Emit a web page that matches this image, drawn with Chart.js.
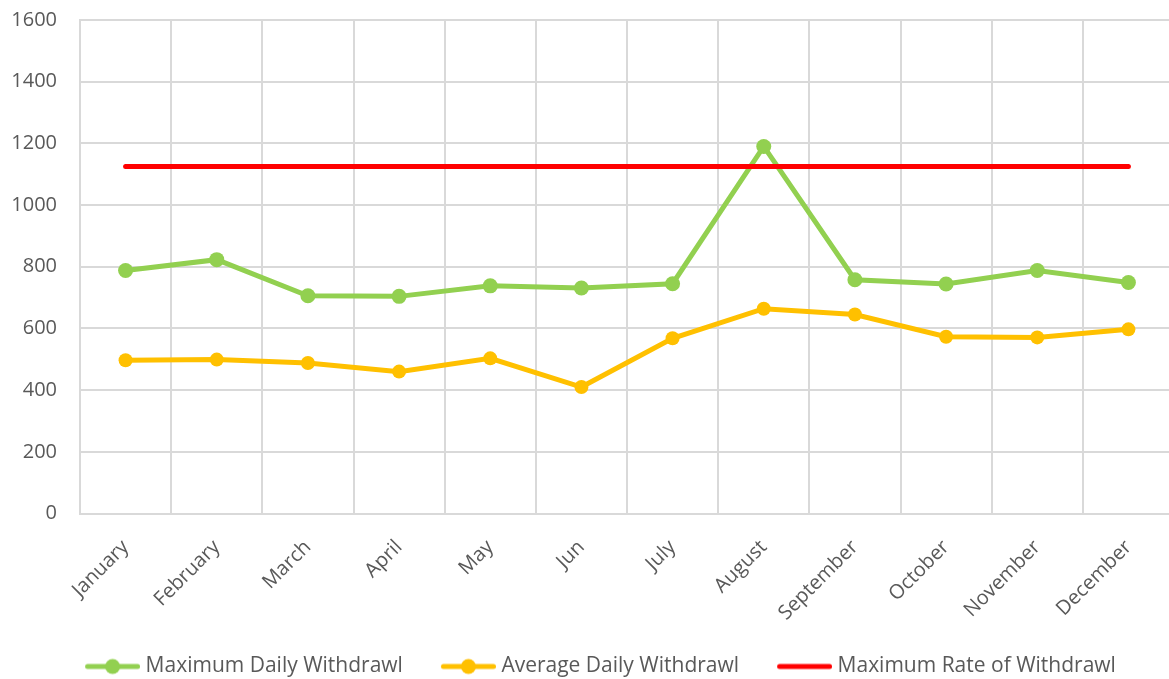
<!DOCTYPE html>
<html>
<head>
<meta charset="utf-8">
<script src="https://cdn.jsdelivr.net/npm/chart.js@4/dist/chart.umd.min.js"></script>
<style>
  html, body { margin: 0; padding: 0; background: #fff; overflow: hidden; }
  #wrap { width: 1169px; height: 679px; overflow: hidden; }
  canvas { display: block; }
</style>
</head>
<body>
<div id="wrap"><canvas id="withdrawl-chart" width="1200" height="679"></canvas></div>
<script>
const months = ['January', 'February', 'March', 'April', 'May', 'Jun', 'July', 'August', 'September', 'October', 'November', 'December']
const maxDaily = [788, 823, 706, 704, 738, 731, 745, 1190, 758, 744, 788, 749]
const avgDaily = [497, 499, 488, 460, 503, 410, 568, 664, 645, 573, 571, 597]
const maxRate = [1125, 1125, 1125, 1125, 1125, 1125, 1125, 1125, 1125, 1125, 1125, 1125]
const yTicks = [0, 200, 400, 600, 800, 1000, 1200, 1400, 1600]

const GREEN = '#92D050'
const YELLOW = '#FFC000'
const RED = '#FF0000'
const TEXT = '#595959'
const GRID = '#d9d9d9'

// legend icon: blank on the left so the gap between legend items can be wider than the vertical padding
function legendIcon(color, withDot) {
  const c = document.createElement('canvas')
  c.width = 84
  c.height = 18
  const ctx = c.getContext('2d')
  ctx.strokeStyle = color
  ctx.lineWidth = 5
  ctx.lineCap = 'round'
  ctx.beginPath()
  ctx.moveTo(31.5, 9)
  ctx.lineTo(81.5, 9)
  ctx.stroke()
  if (withDot) {
    ctx.fillStyle = color
    ctx.beginPath()
    ctx.arc(56.5, 9, 7.5, 0, Math.PI * 2)
    ctx.fill()
  }
  return c
}

const icons = [legendIcon(GREEN, true), legendIcon(YELLOW, true), legendIcon(RED, false)]

new Chart(document.getElementById('withdrawl-chart'), {
  type: 'line',
  data: {
    labels: months,
    datasets: [
      {
        label: 'Maximum Daily Withdrawl',
        data: maxDaily,
        borderColor: GREEN,
        backgroundColor: GREEN,
        borderWidth: 5,
        pointRadius: 7.5,
        pointBorderWidth: 0,
        tension: 0,
        order: 2,
      },
      {
        label: 'Average Daily Withdrawl',
        data: avgDaily,
        borderColor: YELLOW,
        backgroundColor: YELLOW,
        borderWidth: 5,
        pointRadius: 7,
        pointBorderWidth: 0,
        tension: 0,
        order: 1,
      },
      {
        label: 'Maximum Rate of Withdrawl',
        data: maxRate,
        borderColor: RED,
        backgroundColor: RED,
        borderWidth: 5,
        borderCapStyle: 'round',
        pointRadius: 0,
        tension: 0,
        order: 0,
      },
    ],
  },
  options: {
    responsive: false,
    animation: false,
    layout: { padding: { top: 20, right: 26, left: 3, bottom: -8 } },
    plugins: {
      tooltip: { enabled: false },
      legend: {
        position: 'bottom',
        labels: {
          color: TEXT,
          font: { family: 'Open Sans', size: 21 },
          usePointStyle: true,
          pointStyleWidth: 74,
          padding: 14,
          generateLabels: (chart) =>
            chart.data.datasets.map((ds, i) => ({
              text: ds.label,
              fillStyle: ds.borderColor,
              strokeStyle: ds.borderColor,
              lineWidth: 0,
              pointStyle: icons[i],
              fontColor: TEXT,
              datasetIndex: i,
              hidden: false,
            })),
        },
      },
    },
    scales: {
      x: {
        offset: true,
        grid: { color: GRID, lineWidth: 2, offset: true, drawTicks: false },
        border: { color: GRID, width: 2 },
        ticks: {
          color: TEXT,
          font: { family: 'Open Sans', size: 20 },
          minRotation: 45,
          maxRotation: 45,
          padding: 22,
          autoSkip: false,
        },
        afterFit: (axis) => {
          axis.height = 128.5
          axis.paddingLeft = 0
          axis.paddingRight = 0
        },
      },
      y: {
        min: 0,
        max: 1600,
        afterBuildTicks: (axis) => {
          axis.ticks = yTicks.map((value) => ({ value }))
        },
        grid: { color: GRID, lineWidth: 2, drawTicks: false },
        border: { color: GRID, width: 2 },
        ticks: {
          color: TEXT,
          font: { family: 'Open Sans', size: 20 },
          padding: 23,
          callback: (value) => String(value),
        },
        afterFit: (axis) => {
          axis.width = 77
          axis.paddingTop = 0
          axis.paddingBottom = 0
        },
      },
    },
  },
})
</script>
</body>
</html>
